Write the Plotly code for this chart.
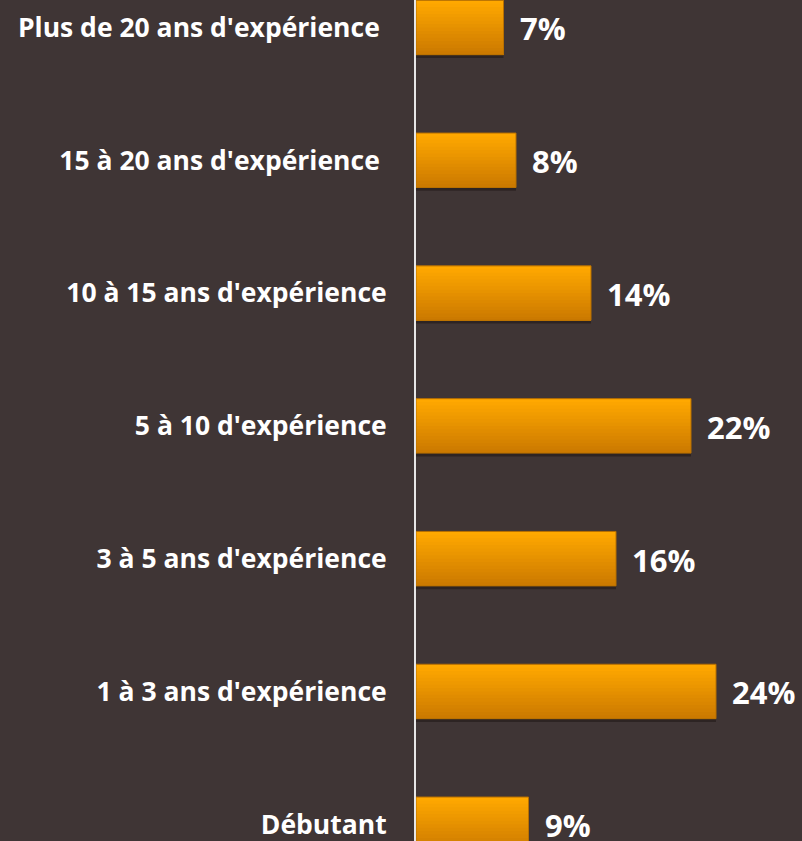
import plotly.graph_objects as go

categories = ["Débutant", "1 à 3 ans d'expérience", "3 à 5 ans d'expérience",
              "5 à 10 d'expérience", "10 à 15 ans d'expérience",
              "15 à 20 ans d'expérience ", "Plus de 20 ans d'expérience "]
values = [9, 24, 16, 22, 14, 8, 7]
value_labels = ["9%", "24%", "16%", "22%", "14%", "8%", "7%"]

bg = "#3f3535"
bar_w = 0.41
n_slices = 16

fig = go.Figure()

# soft shadow under each bar
fig.add_trace(go.Bar(
    y=categories, x=values, orientation="h",
    width=bar_w, offset=-bar_w / 2 - 0.025,
    marker=dict(color="rgba(20,12,10,0.4)", line=dict(width=0)),
    hoverinfo="skip", showlegend=False,
))

# vertical gradient: each layer covers from the bar bottom up to its own top edge
top = (255, 168, 0)
bot = (204, 122, 0)
slice_w = bar_w / n_slices
for i in range(n_slices):
    t = i / (n_slices - 1)
    c = tuple(round(top[k] + (bot[k] - top[k]) * t) for k in range(3))
    fig.add_trace(go.Bar(
        y=categories, x=values, orientation="h",
        width=bar_w - i * slice_w, offset=-bar_w / 2,
        marker=dict(color="rgb(%d,%d,%d)" % c, line=dict(width=0)),
        hoverinfo="skip", showlegend=False,
    ))

# outline
fig.add_trace(go.Bar(
    y=categories, x=values, orientation="h",
    width=bar_w, offset=-bar_w / 2,
    marker=dict(color="rgba(0,0,0,0)", line=dict(color="#b87000", width=1)),
    hoverinfo="skip", showlegend=False,
))

for cat, v, lab in zip(categories, values, value_labels):
    fig.add_annotation(
        x=v, y=cat, text=lab, showarrow=False,
        xanchor="left", yanchor="middle", xshift=14, yshift=-1,
        font=dict(family="Open Sans", size=31, color="white", weight="bold"),
    )

fig.update_layout(
    width=802, height=841,
    margin=dict(l=416, r=0, t=0, b=0),
    barmode="overlay",
    paper_bgcolor=bg, plot_bgcolor=bg,
    xaxis=dict(range=[0, 30.88], visible=False, showgrid=False, zeroline=False),
    yaxis=dict(
        range=[-0.126, 6.207], showgrid=False, zeroline=False,
        showline=True, linecolor="#e6e6e6", linewidth=2,
        ticks="", ticklabelstandoff=22,
        tickfont=dict(family="Open Sans", size=26.5, color="white", weight="bold"),
    ),
    showlegend=False,
)

fig.write_html("out.html", config={"displayModeBar": False},
               post_script="document.body.style.margin='0';document.body.style.background='%s';" % bg)
